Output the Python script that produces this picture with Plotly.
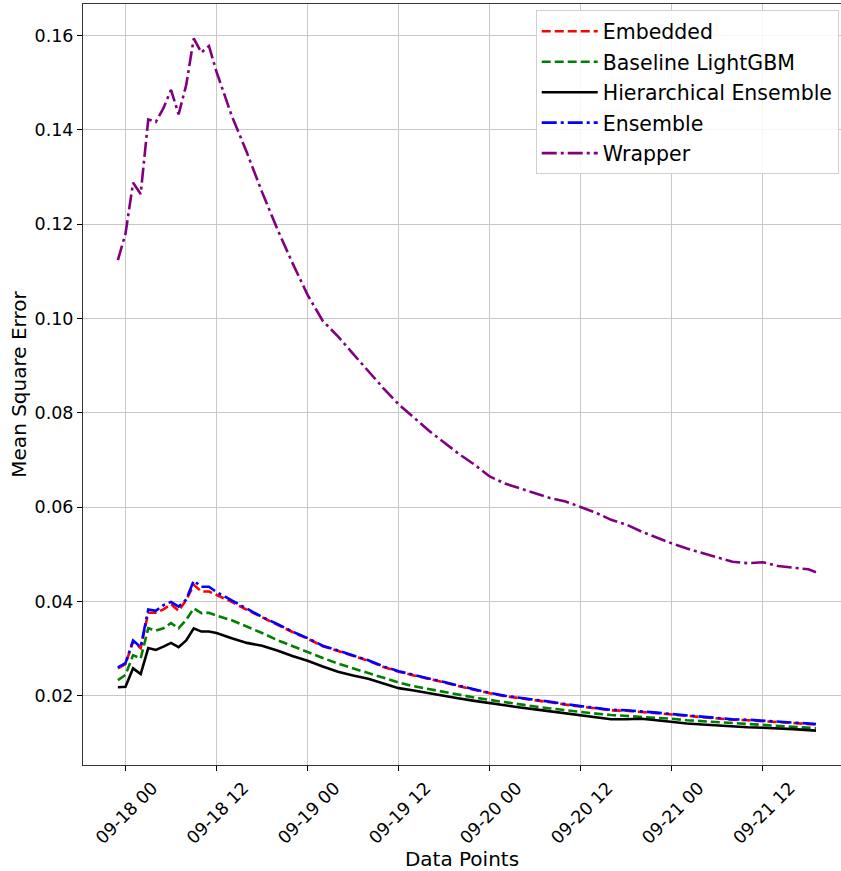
import datetime as dt
import plotly.graph_objects as go

# hour offsets from 2023-09-18 00:00
hours = list(range(-1, 13)) + list(range(14, 91, 2)) + [91]

embedded = [0.0258, 0.0267, 0.0315, 0.0301, 0.0376, 0.0376, 0.0383, 0.0394, 0.0380, 0.0403, 0.0435, 0.0421, 0.0421, 0.0414,
            0.0399, 0.0382, 0.0366, 0.0351, 0.0335, 0.0321, 0.0305, 0.0295, 0.0284, 0.0274, 0.0261, 0.0251, 0.0243, 0.0236,
            0.0228, 0.0220, 0.0212, 0.0205, 0.0199, 0.0195, 0.0190, 0.0186, 0.0181, 0.0177, 0.0173, 0.0169, 0.0168, 0.0166,
            0.0163, 0.0160, 0.0157, 0.0154, 0.0152, 0.0149, 0.0148, 0.0146, 0.0144, 0.0142, 0.0140, 0.0139]
baseline = [0.0233, 0.0244, 0.0286, 0.0279, 0.0343, 0.0338, 0.0343, 0.0354, 0.0343, 0.0361, 0.0385, 0.0375, 0.0376, 0.0370,
            0.0360, 0.0347, 0.0333, 0.0318, 0.0305, 0.0293, 0.0280, 0.0268, 0.0258, 0.0248, 0.0237, 0.0228, 0.0220, 0.0214,
            0.0207, 0.0201, 0.0196, 0.0191, 0.0186, 0.0182, 0.0177, 0.0173, 0.0169, 0.0166, 0.0162, 0.0159, 0.0157, 0.0156,
            0.0154, 0.0151, 0.0148, 0.0146, 0.0144, 0.0142, 0.0140, 0.0138, 0.0136, 0.0134, 0.0132, 0.0131]
hierarchical = [0.0218, 0.0219, 0.0258, 0.0246, 0.0301, 0.0297, 0.0304, 0.0312, 0.0303, 0.0317, 0.0343, 0.0336, 0.0336, 0.0333,
                0.0322, 0.0312, 0.0306, 0.0296, 0.0284, 0.0274, 0.0262, 0.0251, 0.0243, 0.0236, 0.0226, 0.0216, 0.0211, 0.0205,
                0.0200, 0.0194, 0.0189, 0.0184, 0.0179, 0.0175, 0.0171, 0.0167, 0.0162, 0.0159, 0.0155, 0.0150, 0.0150, 0.0151,
                0.0148, 0.0144, 0.0141, 0.0139, 0.0137, 0.0134, 0.0133, 0.0132, 0.0131, 0.0129, 0.0127, 0.0126]
ensemble = [0.0260, 0.0269, 0.0317, 0.0303, 0.0383, 0.0380, 0.0392, 0.0399, 0.0389, 0.0404, 0.0444, 0.0431, 0.0431, 0.0420,
            0.0402, 0.0384, 0.0367, 0.0352, 0.0336, 0.0322, 0.0306, 0.0296, 0.0285, 0.0275, 0.0262, 0.0252, 0.0244, 0.0237,
            0.0229, 0.0221, 0.0213, 0.0206, 0.0200, 0.0196, 0.0191, 0.0187, 0.0182, 0.0178, 0.0174, 0.0170, 0.0169, 0.0167,
            0.0164, 0.0161, 0.0158, 0.0155, 0.0153, 0.0150, 0.0149, 0.0147, 0.0145, 0.0143, 0.0141, 0.0140]
wrapper = [0.1124, 0.1180, 0.1288, 0.1264, 0.1422, 0.1417, 0.1446, 0.1485, 0.1433, 0.1495, 0.1594, 0.1564, 0.1578, 0.1523,
           0.1430, 0.1352, 0.1268, 0.1190, 0.1118, 0.1050, 0.0995, 0.0962, 0.0925, 0.0888, 0.0852, 0.0818, 0.0790, 0.0762,
           0.0737, 0.0712, 0.0690, 0.0665, 0.0650, 0.0640, 0.0630, 0.0619, 0.0612, 0.0600, 0.0588, 0.0573, 0.0563, 0.0548,
           0.0535, 0.0523, 0.0512, 0.0503, 0.0494, 0.0484, 0.0481, 0.0483, 0.0475, 0.0472, 0.0468, 0.0462]

y_ticks = [0.02, 0.04, 0.06, 0.08, 0.10, 0.12, 0.14, 0.16]

base = dt.datetime(2023, 9, 18, 0, 0)
times = [base + dt.timedelta(hours=h) for h in hours]

FONT = "DejaVu Sans"
fig = go.Figure()
series = [
    ("Embedded", embedded, "red", "9px,4px"),
    ("Baseline LightGBM", baseline, "green", "9px,4px"),
    ("Hierarchical Ensemble", hierarchical, "black", "solid"),
    ("Ensemble", ensemble, "blue", "15px,4px,3px,4px"),
    ("Wrapper", wrapper, "purple", "15px,4px,3px,4px"),
]
for name, vals, color, dash in series:
    fig.add_trace(go.Scatter(x=times, y=vals, mode="lines", name=name, legendgroup=name,
                             line=dict(color=color, width=2.6, dash=dash)))

x0 = base + dt.timedelta(hours=-5.6)
x1 = base + dt.timedelta(hours=94.3)
fig.update_layout(
    width=841, height=871,
    margin=dict(l=83, r=0, t=4, b=106, autoexpand=False),
    paper_bgcolor="white", plot_bgcolor="white",
    font=dict(family=FONT, size=17.5, color="black"),
    showlegend=True,
    legend=dict(x=0.997, y=0.9915, xanchor="right", yanchor="top",
                bgcolor="rgba(255,255,255,0.85)", bordercolor="#d0d0d0", borderwidth=1,
                itemwidth=56, tracegroupgap=0.8,
                font=dict(family=FONT, size=20.5)),
    xaxis=dict(type="date", range=[x0, x1], tick0=base, dtick=12 * 3600 * 1000,
               tickformat="%m-%d %H", tickangle=-45, automargin=False,
               ticklabelshift=27, ticklabelstandoff=0,
               ticks="outside", ticklen=5, tickcolor="black",
               showgrid=True, gridcolor="#c8c8c8", gridwidth=1,
               showline=True, linecolor="#333333", linewidth=1, mirror=True,
               zeroline=False,
               title=dict(text="Data Points", font=dict(size=20), standoff=6)),
    yaxis=dict(range=[0.0053, 0.1667], tickvals=y_ticks, tickformat=".2f",
               automargin=False,
               ticks="outside", ticklen=5, tickcolor="black",
               showgrid=True, gridcolor="#c8c8c8", gridwidth=1,
               showline=True, linecolor="#333333", linewidth=1, mirror=False,
               zeroline=False,
               title=dict(text="Mean Square Error", font=dict(size=20), standoff=2)),
)
fig.write_html("out.html", config={"displayModeBar": False},
               post_script="document.body.style.margin='0px';document.body.style.overflow='hidden';")
